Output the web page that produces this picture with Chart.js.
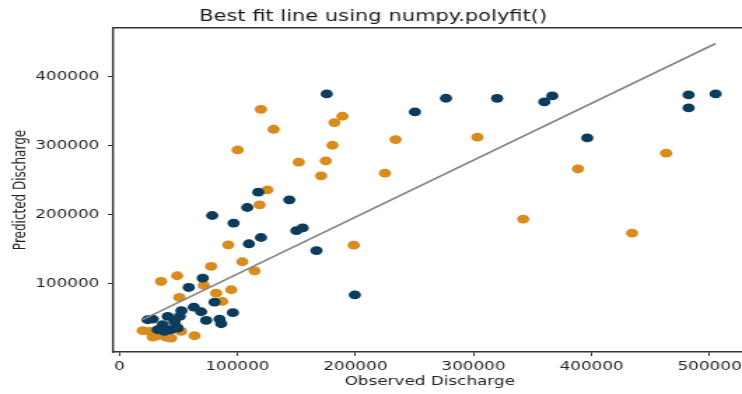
<!DOCTYPE html>
<html>
<head>
<meta charset="utf-8">
<script src="https://cdn.jsdelivr.net/npm/chart.js@4"></script>
<style>
  html, body { margin: 0; padding: 0; background: #fff; overflow: hidden; }
  #wrap { width: 742px; height: 394px; overflow: hidden; }
  /* the reference image is stretched sideways, so the canvas is too */
  #myChart { transform: scaleX(1.4); transform-origin: 0 0; }
</style>
</head>
<body>
<div id="wrap"><canvas id="myChart" width="540" height="394"></canvas></div>
<script>
// observed vs predicted, two groups of points
let blueX = [175700, 250400, 276700, 320000, 360000, 366700, 396400, 482200, 482200, 505100,
  167000, 150000, 155300, 199500, 78700, 96800, 108400, 117700, 144000, 109800, 120000,
  70700, 58800, 80600, 96200, 63100, 69300, 73600, 84900, 86300, 52600, 51200, 41000,
  28300, 36800, 46700, 32500, 43900, 49500, 38200, 24000];
let blueY = [375400, 349300, 369100, 369000, 363800, 372500, 311600, 373900, 355000, 375400,
  148200, 177000, 181000, 84000, 199000, 188000, 210600, 232900, 221700, 158000, 167100,
  108200, 94600, 73400, 58000, 66100, 59400, 46800, 48700, 42000, 60900, 52600, 52600,
  48700, 40600, 45400, 33300, 33300, 35700, 30900, 47800];

let orangeX = [120000, 130700, 100200, 152000, 125400, 118800, 92300, 104200, 189000, 182200,
  180500, 174900, 170900, 234000, 225000, 303300, 198600, 388500, 463200, 342100, 434300,
  35400, 49000, 77800, 114600, 71600, 50900, 82000, 94800, 87100, 63700, 19800, 28300,
  39600, 32500, 48100, 52300, 25500, 43900];
let orangeY = [353100, 324100, 294200, 276400, 236200, 214500, 156500, 131900, 343000, 333800,
  300900, 278300, 256500, 309200, 260400, 312600, 156000, 266700, 289400, 193800, 173500,
  103300, 111600, 125100, 118800, 97500, 80200, 86400, 91300, 74300, 24600, 31900, 22600,
  22600, 24600, 39100, 30900, 30900, 21200];

// polyfit line end points
let fitX = [19800, 505100];
let fitY = [48000, 448400];

let xTicks = [0, 100000, 200000, 300000, 400000, 500000];
let yTicks = [100000, 200000, 300000, 400000];

function toPoints(xs, ys) {
  return xs.map((x, i) => ({ x: x, y: ys[i] }));
}

let axisColor = "#333";
let textColor = "#222";
let font = "'DejaVu Sans', sans-serif";

let myChart = document.getElementById("myChart").getContext("2d");
let fitChart = new Chart(myChart, {
  type: "scatter",
  data: {
    datasets: [
      {
        type: "line",
        label: "fit",
        data: toPoints(fitX, fitY),
        borderColor: "#858585",
        borderWidth: 1.7,
        pointRadius: 0,
        fill: false,
      },
      {
        label: "blue",
        data: toPoints(blueX, blueY),
        backgroundColor: "#0b3c5d",
        borderWidth: 0,
        pointRadius: 4.4,
      },
      {
        label: "orange",
        data: toPoints(orangeX, orangeY),
        backgroundColor: "#d98b1c",
        borderWidth: 0,
        pointRadius: 4.4,
      },
    ],
  },
  options: {
    responsive: false,
    animation: false,
    devicePixelRatio: 1,
    layout: { padding: { left: 0, right: 7, top: 0, bottom: 0 } },
    scales: {
      x: {
        type: "linear",
        position: "bottom",
        min: -5000,
        max: 531000,
        afterBuildTicks: (s) => { s.ticks = xTicks.map((v) => ({ value: v })); },
        afterFit: (s) => { s.height = 42; },
        grid: { drawOnChartArea: false, drawTicks: true, tickLength: 4, color: axisColor },
        border: { display: true, color: axisColor, width: 1.4 },
        ticks: {
          color: textColor,
          padding: 4,
          maxRotation: 0,
          font: { family: font, size: 12 },
          callback: (v) => String(v),
        },
        title: {
          display: true,
          text: "Observed Discharge",
          color: textColor,
          font: { family: font, size: 12 },
          padding: { top: 0, bottom: 5 },
        },
      },
      x2: {
        type: "linear",
        position: "top",
        min: -5000,
        max: 531000,
        afterFit: (s) => { s.height = 0; },
        grid: { display: false, drawTicks: false },
        border: { display: true, color: axisColor, width: 1.4 },
        ticks: { display: false },
      },
      y: {
        type: "linear",
        min: 1000,
        max: 471000,
        afterBuildTicks: (s) => { s.ticks = yTicks.map((v) => ({ value: v })); },
        afterFit: (s) => { s.width = 81; },
        grid: { drawOnChartArea: false, drawTicks: true, tickLength: 4, color: axisColor },
        border: { display: true, color: axisColor, width: 1.4 },
        ticks: {
          color: textColor,
          padding: 6,
          font: { family: font, size: 12 },
          callback: (v) => String(v),
        },
        title: {
          display: true,
          text: "Predicted Discharge",
          color: textColor,
          font: { family: font, size: 12 },
          padding: { top: 8, bottom: 0 },
        },
      },
    },
    plugins: {
      legend: { display: false },
      tooltip: { enabled: false },
      title: {
        display: true,
        text: "Best fit line using numpy.polyfit()",
        color: "#1a1a1a",
        font: { family: font, size: 15, weight: "normal" },
        padding: { top: 8, bottom: 2 },
      },
    },
  },
});
</script>
</body>
</html>
